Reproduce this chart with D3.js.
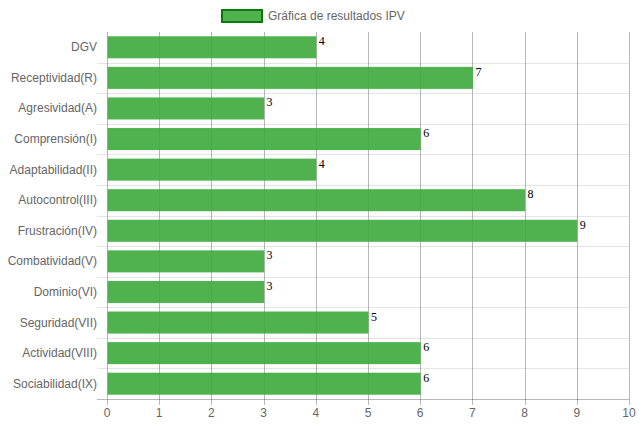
<!DOCTYPE html>
<html>
<head>
<meta charset="utf-8">
<script src="https://cdn.jsdelivr.net/npm/d3@7"></script>
<style>
  html, body { margin: 0; padding: 0; background: #fff; }
  svg { display: block; }
  text { font-family: "Liberation Sans", Arial, sans-serif; }
  text.value { font-family: "Liberation Serif", "Times New Roman", serif; }
</style>
</head>
<body>
<svg id="chart" width="639" height="427"></svg>
<script>
// Escalas del test IPV
const categories = [
  "DGV", "Receptividad(R)", "Agresividad(A)", "Comprensión(I)",
  "Adaptabilidad(II)", "Autocontrol(III)", "Frustración(IV)",
  "Combatividad(V)", "Dominio(VI)", "Seguridad(VII)",
  "Actividad(VIII)", "Sociabilidad(IX)"
];
const values = [4, 7, 3, 6, 4, 8, 9, 3, 3, 5, 6, 6];
const xTicks = [0, 1, 2, 3, 4, 5, 6, 7, 8, 9, 10];
const seriesLabel = "Gráfica de resultados IPV";

const svg = d3.select("#chart");
const plotLeft = 107, plotRight = 629, plotTop = 32, plotBottom = 399;

const x = d3.scaleLinear().domain([0, 10]).range([plotLeft, plotRight]);
const y = d3.scaleBand().domain(categories).range([plotTop, plotBottom]).padding(0);

const gridColor = "rgba(0,0,0,0.1)";
const axisColor = "rgba(0,0,0,0.28)";

// Horizontal separators between categories
svg.append("g").selectAll("line")
  .data(categories.slice(1))
  .join("line")
  .attr("x1", plotLeft - 10).attr("x2", plotRight)
  .attr("y1", d => Math.round(y(d)) + 0.5)
  .attr("y2", d => Math.round(y(d)) + 0.5)
  .attr("stroke", gridColor).attr("stroke-width", 1);

// Vertical grid lines with tick marks below the axis
svg.append("g").selectAll("line")
  .data(xTicks)
  .join("line")
  .attr("x1", d => Math.round(x(d)) + 0.5)
  .attr("x2", d => Math.round(x(d)) + 0.5)
  .attr("y1", plotTop).attr("y2", plotBottom + 6)
  .attr("stroke", axisColor).attr("stroke-width", 1);

// Bottom axis line
svg.append("line")
  .attr("x1", plotLeft - 10).attr("x2", plotRight)
  .attr("y1", plotBottom + 0.5).attr("y2", plotBottom + 0.5)
  .attr("stroke", axisColor).attr("stroke-width", 1);

// Bars
const barH = y.bandwidth() * 0.72;
const bars = categories.map((c, i) => ({ c, v: values[i] }));

svg.append("g").selectAll("rect")
  .data(bars)
  .join("rect")
  .attr("x", x(0) + 0.5)
  .attr("y", d => y(d.c) + (y.bandwidth() - barH) / 2)
  .attr("width", d => x(d.v) - x(0))
  .attr("height", barH)
  .attr("fill", "rgba(60,170,60,0.9)");

// Value labels at the end of each bar
svg.append("g").selectAll("text")
  .data(bars)
  .join("text")
  .attr("class", "value")
  .attr("x", d => x(d.v) + 3)
  .attr("y", d => y(d.c) + (y.bandwidth() - barH) / 2 + 9)
  .attr("font-size", 12)
  .attr("fill", "#000")
  .text(d => d.v);

// Category labels
svg.append("g").selectAll("text")
  .data(categories)
  .join("text")
  .attr("x", plotLeft - 10)
  .attr("y", d => y(d) + y.bandwidth() / 2)
  .attr("text-anchor", "end")
  .attr("dominant-baseline", "central")
  .attr("font-size", 12)
  .attr("fill", "#666")
  .text(d => d);

// X tick labels
svg.append("g").selectAll("text")
  .data(xTicks)
  .join("text")
  .attr("x", d => x(d))
  .attr("y", plotBottom + 14)
  .attr("text-anchor", "middle")
  .attr("dominant-baseline", "central")
  .attr("font-size", 12)
  .attr("fill", "#666")
  .text(d => d);

// Legend
const legend = svg.append("g");
legend.append("rect")
  .attr("x", 222).attr("y", 10)
  .attr("width", 40).attr("height", 12)
  .attr("fill", "rgba(60,170,60,0.9)")
  .attr("stroke", "#0b7a0b").attr("stroke-width", 2);
legend.append("text")
  .attr("x", 268).attr("y", 16)
  .attr("dominant-baseline", "central")
  .attr("font-size", 12)
  .attr("fill", "#666")
  .text(seriesLabel);
</script>
</body>
</html>
